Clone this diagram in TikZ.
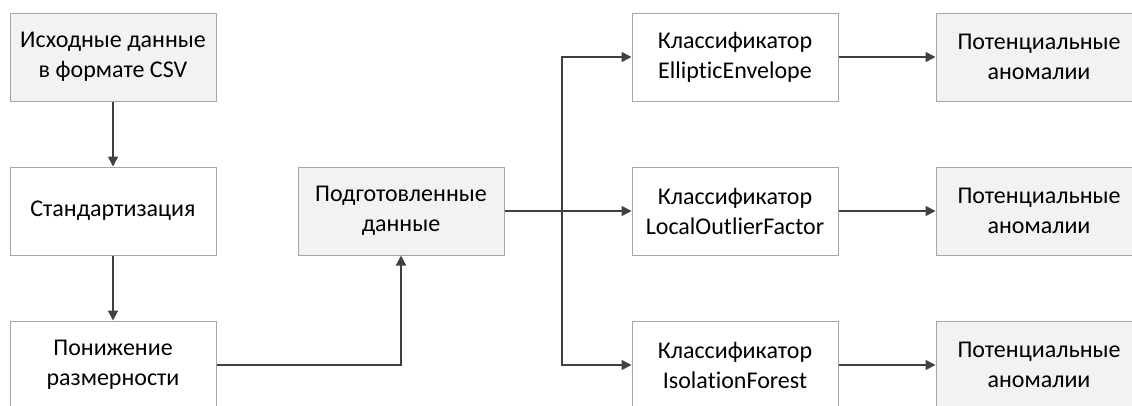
\documentclass[tikz,border=0pt]{standalone}
\usepackage{fontspec}
\setmainfont{Carlito}[Ligatures=NoCommon]
\usetikzlibrary{arrows.meta}
\definecolor{boxfill}{HTML}{F2F2F2}
\definecolor{boxline}{HTML}{A6A6A6}
\definecolor{arrline}{HTML}{404040}
\begin{document}
\begin{tikzpicture}[x=1pt,y=-1pt,
  box/.style={draw=boxline,line width=1pt,minimum width=206pt,minimum height=88pt,inner sep=0pt,align=center,font=\fontsize{24}{30}\selectfont,text=black},
  grey/.style={box,fill=boxfill},
  white/.style={box,fill=white},
  arr/.style={draw=arrline,line width=1.5pt,-{Triangle[length=10pt,width=10pt]}},
  ln/.style={draw=arrline,line width=1.5pt}]
\useasboundingbox (0,0) rectangle (1132,405);
\node[grey] (b1) at (113,57) {Исходные данные\\в формате CSV};
\node[white] (b2) at (113,211) {Стандартизация};
\node[white] (b3) at (113,365) {Понижение\\размерности};
\node[grey] (b4) at (401,211) {Подготовленные\\данные};
\node[white] (c1) at (735,57) {Классификатор\\EllipticEnvelope};
\node[white] (c2) at (735,211) {Классификатор\\LocalOutlierFactor};
\node[white] (c3) at (735,365) {Классификатор\\IsolationForest};
\node[grey] (d1) at (1039,57) {Потенциальные\\аномалии};
\node[grey] (d2) at (1039,211) {Потенциальные\\аномалии};
\node[grey] (d3) at (1039,365) {Потенциальные\\аномалии};
\coordinate (j) at (562,211);
\draw[arr] (b1) -- (b2);
\draw[arr] (b2) -- (b3);
\draw[arr] (b3.east) -| (b4.south);
\draw[arr] (b4.east) -- (c2.west);
\draw[arr] (j) |- (c1.west);
\draw[arr] (j) |- (c3.west);
\draw[arr] (c1) -- (d1);
\draw[arr] (c2) -- (d2);
\draw[arr] (c3) -- (d3);
\end{tikzpicture}
\end{document}
